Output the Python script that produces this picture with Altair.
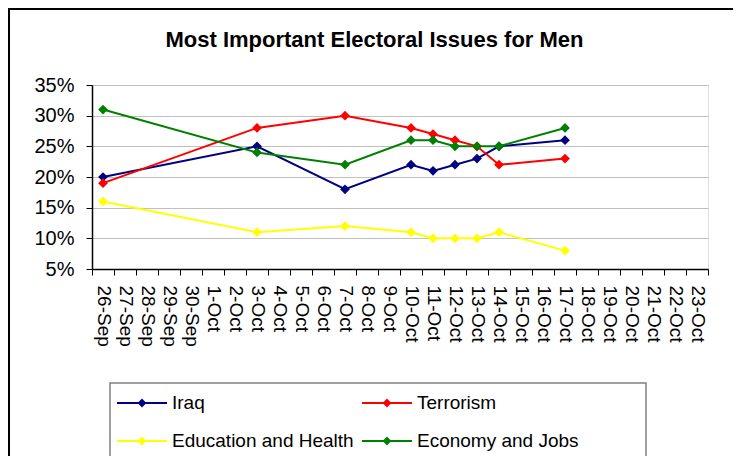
import altair as alt
import pandas as pd

# ---- data ----
day_labels = ["26-Sep", "27-Sep", "28-Sep", "29-Sep", "30-Sep", "1-Oct", "2-Oct",
              "3-Oct", "4-Oct", "5-Oct", "6-Oct", "7-Oct", "8-Oct", "9-Oct",
              "10-Oct", "11-Oct", "12-Oct", "13-Oct", "14-Oct", "15-Oct", "16-Oct",
              "17-Oct", "18-Oct", "19-Oct", "20-Oct", "21-Oct", "22-Oct", "23-Oct"]
survey_days = ["26-Sep", "3-Oct", "7-Oct", "10-Oct", "11-Oct", "12-Oct",
               "13-Oct", "14-Oct", "17-Oct"]
series_names = ["Iraq", "Terrorism", "Education and Health", "Economy and Jobs"]
series_colors = ["#000080", "#FF0000", "#FFFF00", "#008000"]
iraq = [20, 25, 18, 22, 21, 22, 23, 25, 26]
terrorism = [19, 28, 30, 28, 27, 26, 25, 22, 23]
education = [16, 11, 12, 11, 10, 10, 10, 11, 8]
economy = [31, 24, 22, 26, 26, 25, 25, 25, 28]
y_ticks = [5, 10, 15, 20, 25, 30, 35]
title_text = "Most Important Electoral Issues for Men"

rows = []
for name, vals in zip(series_names, [iraq, terrorism, education, economy]):
    for d, v in zip(survey_days, vals):
        rows.append({"Day": d, "Share": v, "Issue": name})
df = pd.DataFrame(rows)

FONT = "Liberation Sans"
legend_symbol = ("M-1.316,0H1.316"
                 "M0,-0.158L0.158,0L0,0.158L-0.158,0Z"
                 "M0,-0.079L0.079,0L0,0.079L-0.079,0Z")

lines = alt.Chart(df).mark_line(
    strokeWidth=2,
    point=alt.OverlayMarkDef(shape="diamond", filled=True, size=95),
).encode(
    x=alt.X("Day:O",
            scale=alt.Scale(type="band", domain=day_labels, paddingInner=0, paddingOuter=0),
            axis=alt.Axis(title=None, tickBand="extent", labelAngle=90, labelAlign="left",
                          labelBaseline="middle", labelFontSize=19, labelFont=FONT,
                          labelColor="black", labelOverlap=False, labelPadding=10,
                          tickSize=6, tickColor="black", domainColor="black",
                          domainWidth=1.5, grid=False)),
    y=alt.Y("Share:Q",
            scale=alt.Scale(domain=[5, 35], nice=False, zero=False),
            axis=alt.Axis(title=None, values=y_ticks, labelExpr="datum.value + '%'",
                          labelFontSize=20, labelFont=FONT, labelColor="black",
                          labelPadding=12, tickSize=6, tickColor="black",
                          domainColor="black", domainWidth=1.5,
                          grid=True, gridColor="#C0C0C0", gridWidth=1)),
    color=alt.Color("Issue:N",
                    scale=alt.Scale(domain=series_names, range=series_colors),
                    legend=alt.Legend(title=None, orient="none", legendX=30, legendY=298,
                                      direction="horizontal", columns=2,
                                      columnPadding=3, rowPadding=8,
                                      symbolType=legend_symbol, symbolSize=1444,
                                      symbolStrokeWidth=2, labelOffset=10,
                                      labelFontSize=19, labelFont=FONT, labelColor="black",
                                      labelLimit=400, padding=0)),
)

deco = pd.DataFrame({"k": [0]})
outer_frame = alt.Chart(deco).mark_rect(fillOpacity=0, stroke="black", strokeWidth=2).encode(
    x=alt.value(-83), x2=alt.value(700), y=alt.value(-76), y2=alt.value(420))
legend_box = alt.Chart(deco).mark_rect(fill="white", stroke="#808080", strokeWidth=1.5).encode(
    x=alt.value(18), x2=alt.value(554), y=alt.value(298), y2=alt.value(379))
title = alt.Chart(deco).mark_text(
    text=title_text, font=FONT, fontSize=22, fontWeight="bold", color="black",
    align="center", baseline="alphabetic",
).encode(x=alt.value(282.5), y=alt.value(-38))

chart = alt.layer(outer_frame, legend_box, title, lines).properties(
    width=616, height=184,
    autosize=alt.AutoSizeParams(type="none"),
    padding={"left": 84, "top": 77, "right": 25, "bottom": 187},
).configure_view(
    fill="#CCCCFF", stroke="#808080", strokeWidth=2
).configure(background="white")

chart.save("out.html", embed_options={"renderer": "svg", "actions": False})
